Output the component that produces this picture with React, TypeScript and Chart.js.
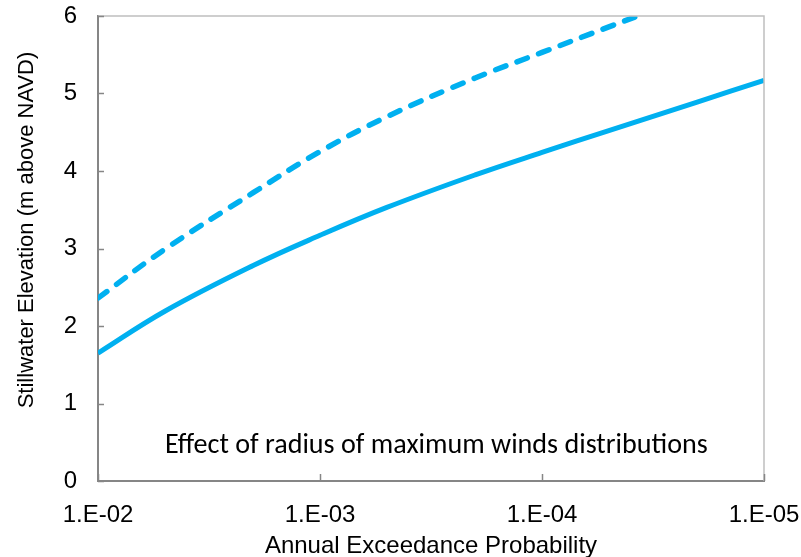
import React, { useEffect, useRef } from 'react';
import { Chart, registerables } from 'chart.js';

Chart.register(...registerables);

// ---- Data ----
const solidProbabilities = [1e-2, 5e-3, 2e-3, 1e-3, 5e-4, 2e-4, 1e-4, 5e-5, 2e-5, 1e-5];
const solidElevation = [1.65, 2.19, 2.78, 3.17, 3.53, 3.95, 4.24, 4.52, 4.89, 5.17];

const dashedProbabilities = [1e-2, 5e-3, 2e-3, 1e-3, 5e-4, 2e-4, 1e-4, 5e-5, 3.7e-5];
const dashedElevation = [2.36, 2.99, 3.72, 4.25, 4.7, 5.2, 5.53, 5.86, 6.0];

const xTickValues = [1e-2, 1e-3, 1e-4, 1e-5];
const yTickValues = [0, 1, 2, 3, 4, 5, 6];

const xTitle = 'Annual Exceedance Probability';
const yTitle = 'Stillwater Elevation (m above NAVD)';
const annotation = 'Effect of radius of maximum winds distributions';

const LINE_COLOR = '#00B0F0';
const AXIS_COLOR = '#868686';
const FRAME_COLOR = '#BFBFBF';
const TEXT_COLOR = '#000000';
const SANS = '"Liberation Sans", Arial, sans-serif';

function formatProb(v: number): string {
  const e = Math.round(-Math.log10(v));
  return `1.E-${String(e).padStart(2, '0')}`;
}

const decorPlugin = {
  id: 'decor',
  afterDraw(chart: any) {
    const { ctx, chartArea, scales } = chart;
    const { left, right, top, bottom } = chartArea;
    const x = scales.x;
    const y = scales.y;
    ctx.save();

    // light frame on top and right
    ctx.strokeStyle = FRAME_COLOR;
    ctx.lineWidth = 1.5;
    ctx.beginPath();
    ctx.moveTo(left, top);
    ctx.lineTo(right, top);
    ctx.lineTo(right, bottom);
    ctx.stroke();

    // inward tick marks
    ctx.strokeStyle = AXIS_COLOR;
    ctx.lineWidth = 1.5;
    ctx.beginPath();
    yTickValues.forEach((v) => {
      const py = Math.round(y.getPixelForValue(v)) + 0.5;
      ctx.moveTo(left, py);
      ctx.lineTo(left + 6, py);
    });
    xTickValues.forEach((v) => {
      const px = Math.round(x.getPixelForValue(v)) + 0.5;
      ctx.moveTo(px, bottom);
      ctx.lineTo(px, bottom - 7);
    });
    ctx.stroke();

    // axis titles
    ctx.fillStyle = TEXT_COLOR;
    ctx.textAlign = 'center';
    ctx.textBaseline = 'middle';
    ctx.font = `24px ${SANS}`;
    ctx.fillText(xTitle, (left + right) / 2, 546);

    ctx.save();
    ctx.translate(27, 230);
    ctx.rotate(-Math.PI / 2);
    ctx.font = `22px ${SANS}`;
    ctx.fillText(yTitle, 0, 0);
    ctx.restore();

    // annotation text, fitted to the reference width
    const family = '"Carlito", "Lato", "Open Sans", sans-serif';
    ctx.font = `24px ${family}`;
    const w = ctx.measureText(annotation).width;
    const size = 24 * (543 / w);
    ctx.font = `${size.toFixed(2)}px ${family}`;
    ctx.textAlign = 'left';
    ctx.textBaseline = 'alphabetic';
    ctx.fillText(annotation, 165, 453);

    ctx.restore();
  },
};

export default function App() {
  const canvasRef = useRef<HTMLCanvasElement | null>(null);

  useEffect(() => {
    const canvas = canvasRef.current;
    if (!canvas) return;

    const chart = new Chart(canvas, {
      type: 'line',
      data: {
        datasets: [
          {
            label: 'Solid',
            data: solidProbabilities.map((p, i) => ({ x: p, y: solidElevation[i] })),
            borderColor: LINE_COLOR,
            backgroundColor: LINE_COLOR,
            borderWidth: 5,
            pointRadius: 0,
            tension: 0.4,
            fill: false,
            clip: 0,
          },
          {
            label: 'Dashed',
            data: dashedProbabilities.map((p, i) => ({ x: p, y: dashedElevation[i] })),
            borderColor: LINE_COLOR,
            backgroundColor: LINE_COLOR,
            borderWidth: 5.5,
            borderDash: [11, 12],
            borderCapStyle: 'round',
            pointRadius: 0,
            tension: 0.4,
            fill: false,
            clip: 0,
          },
        ],
      },
      options: {
        animation: false,
        responsive: true,
        maintainAspectRatio: false,
        layout: { padding: { top: 16, right: 37, left: 0, bottom: 0 } },
        plugins: {
          legend: { display: false },
          tooltip: { enabled: false },
          title: { display: false },
        },
        scales: {
          x: {
            type: 'logarithmic',
            reverse: true,
            min: 1e-5,
            max: 1e-2,
            afterBuildTicks: (scale: any) => {
              scale.ticks = xTickValues.map((v) => ({ value: v }));
            },
            afterFit: (scale: any) => {
              scale.height = 76;
              scale.paddingLeft = 0;
              scale.paddingRight = 0;
              scale.paddingTop = 0;
              scale.paddingBottom = 0;
            },
            grid: { display: true, drawOnChartArea: false, drawTicks: false },
            border: { display: true, color: AXIS_COLOR, width: 2 },
            ticks: {
              autoSkip: false,
              maxRotation: 0,
              minRotation: 0,
              padding: 20,
              color: TEXT_COLOR,
              font: { family: SANS, size: 24 },
              callback: (value: any) => formatProb(Number(value)),
            },
          },
          y: {
            type: 'linear',
            min: 0,
            max: 6,
            afterFit: (scale: any) => {
              scale.width = 98;
              scale.paddingLeft = 0;
              scale.paddingRight = 0;
              scale.paddingTop = 0;
              scale.paddingBottom = 0;
            },
            grid: { display: true, drawOnChartArea: false, drawTicks: false },
            border: { display: true, color: AXIS_COLOR, width: 2 },
            ticks: {
              stepSize: 1,
              padding: 21,
              color: TEXT_COLOR,
              font: { family: SANS, size: 24 },
            },
          },
        },
      } as any,
      plugins: [decorPlugin],
    });

    return () => chart.destroy();
  }, []);

  return (
    <div style={{ position: 'fixed', left: 0, top: 0, width: 801, height: 557, background: '#fff' }}>
      <canvas ref={canvasRef} />
    </div>
  );
}
